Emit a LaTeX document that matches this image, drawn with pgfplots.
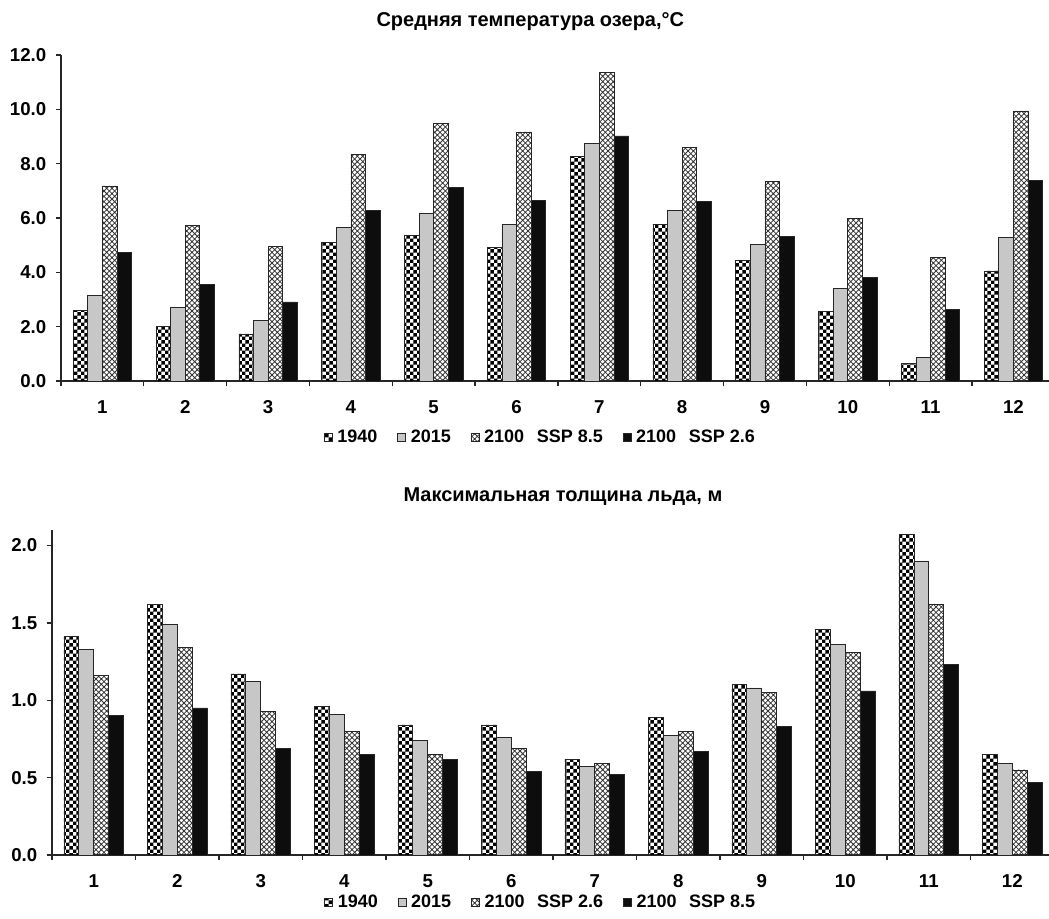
\documentclass[border=0pt]{standalone}
\usepackage{fontspec}
\setmainfont{Liberation Sans}
\usepackage{pgfplots}
\usepackage{pgfplotstable}
\pgfplotsset{compat=1.18}
\usetikzlibrary{patterns}

\pgfdeclarepatternformonly{mychecker}{\pgfqpoint{0pt}{0pt}}{\pgfqpoint{5.6pt}{5.6pt}}{\pgfqpoint{5.6pt}{5.6pt}}{%
 \pgfpathrectangle{\pgfqpoint{0pt}{0pt}}{\pgfqpoint{2.8pt}{2.8pt}}%
 \pgfpathrectangle{\pgfqpoint{2.8pt}{2.8pt}}{\pgfqpoint{2.8pt}{2.8pt}}%
 \pgfusepath{fill}}
\pgfdeclarepatternformonly{myhatch}{\pgfqpoint{-0.5pt}{-0.5pt}}{\pgfqpoint{4.5pt}{4.5pt}}{\pgfqpoint{4pt}{4pt}}{%
 \pgfsetlinewidth{0.55pt}%
 \pgfpathmoveto{\pgfqpoint{-0.5pt}{-0.5pt}}\pgfpathlineto{\pgfqpoint{4.5pt}{4.5pt}}%
 \pgfpathmoveto{\pgfqpoint{-0.5pt}{4.5pt}}\pgfpathlineto{\pgfqpoint{4.5pt}{-0.5pt}}%
 \pgfusepath{stroke}}

\newcommand\f{\bfseries\fontsize{14}{16}\selectfont}
\newcommand\fl{\bfseries\fontsize{13.5}{16}\selectfont}
\newcommand\ft{\bfseries\fontsize{15}{18}\selectfont}

\pgfplotstableread{
m a b c d
1 2.59 3.14 7.18 4.72
2 2.01 2.70 5.72 3.55
3 1.73 2.23 4.94 2.91
4 5.09 5.66 8.34 6.29
5 5.35 6.17 9.47 7.12
6 4.91 5.77 9.17 6.66
7 8.26 8.74 11.37 9.02
8 5.77 6.29 8.61 6.61
9 4.45 5.03 7.34 5.31
10 2.55 3.41 5.99 3.82
11 0.65 0.87 4.54 2.64
12 4.05 5.28 9.94 7.39
}\temp

\pgfplotstableread{
m a b c d
1 1.41 1.33 1.16 0.90
2 1.62 1.49 1.34 0.95
3 1.17 1.12 0.93 0.69
4 0.96 0.91 0.80 0.65
5 0.84 0.74 0.65 0.62
6 0.84 0.76 0.69 0.54
7 0.62 0.57 0.59 0.52
8 0.89 0.77 0.80 0.67
9 1.10 1.08 1.05 0.83
10 1.46 1.36 1.31 1.06
11 2.07 1.90 1.62 1.23
12 0.65 0.59 0.55 0.47
}\ice

\pgfplotsset{
  panel/.style={
    scale only axis,
    xmin=0.5, ymin=0,
    axis x line=bottom, axis y line=left,
    axis line style={-, line width=1.3pt, black!85},
    tick align=outside,
    xtick={1,...,12},
    major x tick style={draw=none},
    minor xtick={0.5,1.5,...,11.5},
    minor tick length=4pt,
    major tick length=4pt,
    every tick/.style={line width=1pt, black!85},
    ticklabel style={font=\f},
    xticklabel style={yshift=-7pt},
    yticklabel style={xshift=-3.5pt},
    /pgf/number format/assume math mode=true,
    yticklabel style={/pgf/number format/.cd, fixed, fixed zerofill, precision=1},
    ybar=0pt,
    clip=false,
    legend columns=4,
    legend style={draw=none, fill=none, font=\fl, inner sep=0pt, anchor=west,
      /tikz/every odd column/.append style={column sep=1.5pt},
      /tikz/every even column/.append style={column sep=13pt}},
    legend image code/.code={\draw[#1] (0pt,-3pt) rectangle (6pt,3pt);},
  },
  s1/.style={draw=black!85, line width=0.5pt, pattern=mychecker, pattern color=black},
  s2/.style={draw=black!85, line width=0.5pt, fill=black!22},
  s3/.style={draw=black!85, line width=0.5pt, pattern=myhatch, pattern color=black!80},
  s4/.style={draw=black!85, line width=0.5pt, fill=black!95},
}

\begin{document}
\begin{tikzpicture}
\useasboundingbox (0pt,0pt) rectangle (786.75pt,689.25pt);

\begin{axis}[panel,
  at={(45.75pt,403.5pt)}, anchor=south west,
  width=741pt, height=244.5pt,
  xmax=12.43, ymax=12,
  ytick={0,2,...,12},
  bar width=10.95pt,
  legend style={at={(0.266,-0.172)}},
]
\addplot[s1] table[x=m,y=a] {\temp};
\addplot[s2] table[x=m,y=b] {\temp};
\addplot[s3] table[x=m,y=c] {\temp};
\addplot[s4] table[x=m,y=d] {\temp};
\legend{1940, 2015, 2100\hspace{0.7em}SSP 8.5, 2100\hspace{0.7em}SSP 2.6}
\node[font=\ft] at (rel axis cs:0.475,1.101) {Средняя температура озера,°C};
\end{axis}

\begin{axis}[panel,
  at={(39pt,48pt)}, anchor=south west,
  width=747.75pt, height=243.75pt,
  xmax=12.44, ymax=2.1,
  ytick={0,0.5,...,2.0},
  bar width=11.2pt,
  legend style={at={(0.273,-0.145)}},
]
\addplot[s1] table[x=m,y=a] {\ice};
\addplot[s2] table[x=m,y=b] {\ice};
\addplot[s3] table[x=m,y=c] {\ice};
\addplot[s4] table[x=m,y=d] {\ice};
\legend{1940, 2015, 2100\hspace{0.7em}SSP 2.6, 2100\hspace{0.7em}SSP 8.5}
\node[font=\ft] at (rel axis cs:0.5125,1.1015) {Максимальная толщина льда, м};
\end{axis}
\end{tikzpicture}
\end{document}
